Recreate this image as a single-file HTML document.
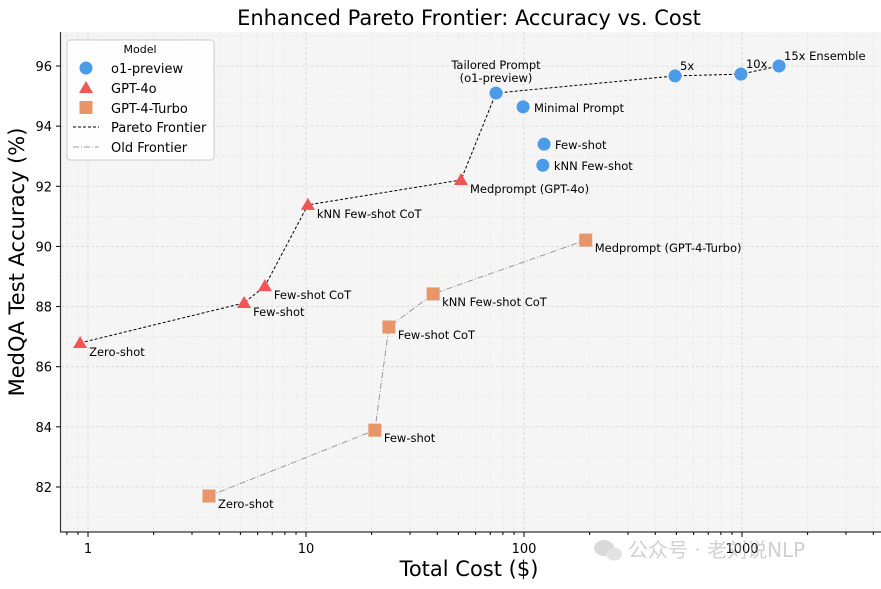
<!DOCTYPE html>
<html><head><meta charset="utf-8">
<style>
html,body{margin:0;padding:0;background:#fff;}
svg text{font-family:"DejaVu Sans","Liberation Sans","Noto Sans CJK SC",sans-serif;}
</style></head>
<body>
<svg id="chart" width="881" height="584" viewBox="0 0 881 584" xmlns="http://www.w3.org/2000/svg">
<rect width="881" height="584" fill="#fff"/>
<rect x="60" y="32" width="821" height="500" fill="#f5f5f5"/>
<g id="grid"></g>
<g id="lines"></g>
<g id="marks"></g>
<g id="labels"></g>
<line x1="60.5" y1="32" x2="60.5" y2="532" stroke="#333" stroke-width="1.2"/>
<line x1="60" y1="532" x2="881" y2="532" stroke="#333" stroke-width="1.2"/>
<g id="ticks"></g>
<text x="469" y="25" font-size="21" text-anchor="middle">Enhanced Pareto Frontier: Accuracy vs. Cost</text>
<text x="469" y="576" font-size="21" text-anchor="middle">Total Cost ($)</text>
<text transform="translate(24,262) rotate(-90)" font-size="21" text-anchor="middle">MedQA Test Accuracy (%)</text>
<g>
<rect x="67" y="40" width="147" height="120" rx="3" fill="#fff" fill-opacity="0.85" stroke="#ccc"/>
<text x="140" y="53" font-size="11" text-anchor="middle">Model</text>
<circle cx="86" cy="68" r="6.5" fill="#4c9be8"/><text x="111" y="73" font-size="13">o1-preview</text>
<polygon points="86,81 93,93 79,93" fill="#f25555"/><text x="111" y="93" font-size="13">GPT-4o</text>
<rect x="79.5" y="101" width="13" height="13" fill="#e8956a"/><text x="111" y="113" font-size="13">GPT-4-Turbo</text>
<line x1="73" y1="127" x2="99" y2="127" stroke="#000" stroke-dasharray="3,2"/><text x="111" y="132" font-size="13">Pareto Frontier</text>
<line x1="73" y1="147" x2="99" y2="147" stroke="#999" stroke-dasharray="6,2,1,2"/><text x="111" y="152" font-size="13">Old Frontier</text>
</g>
<g opacity="0.55">
<ellipse cx="604" cy="548" rx="10" ry="8" fill="#bbb"/><ellipse cx="614" cy="554" rx="8" ry="6.5" fill="#ccc"/>
<text x="628" y="557" font-size="20" fill="#aaa">公众号 · 老刘说NLP</text>
</g>
</svg>
<script>
const o1Names=["Tailored Prompt","Minimal Prompt","Few-shot","kNN Few-shot","5x","10x","15x Ensemble"];
const o1Cost=[74.4,99,123.6,122,493,989,1479];
const o1Acc=[95.1,94.64,93.4,92.7,95.67,95.73,96.0];
const g4oNames=["Zero-shot","Few-shot","Few-shot CoT","kNN Few-shot CoT","Medprompt (GPT-4o)"];
const g4oCost=[0.92,5.2,6.48,10.2,51.4];
const g4oAcc=[86.79,88.12,88.68,91.38,92.21];
const turboNames=["Zero-shot","Few-shot","Few-shot CoT","kNN Few-shot CoT","Medprompt (GPT-4-Turbo)"];
const turboCost=[3.59,20.7,24,38.3,192];
const turboAcc=[81.7,83.89,87.32,88.42,90.21];
const xTicks=[1,10,100,1000];
const yTicks=[82,84,86,88,90,92,94,96];

const NS="http://www.w3.org/2000/svg";
const X=v=>88+218*Math.log10(v);
const Y=v=>66+(96-v)*30.07;
function mk(tag,attrs,parent){const e=document.createElementNS(NS,tag);for(const k in attrs)e.setAttribute(k,attrs[k]);document.getElementById(parent).appendChild(e);return e;}
for(let d=-1;d<=3;d++)for(let m=1;m<10;m++){const v=m*Math.pow(10,d);const x=X(v);if(x<61||x>880)continue;
 const l=mk('line',{x1:x,y1:32,x2:x,y2:532,stroke:m===1?'#d8d8d8':'#e4e4e4','stroke-dasharray':'3,2','stroke-width':m===1?0.9:0.6},'grid');
 
 const t=mk('line',{x1:x,y1:532,x2:x,y2:m===1?537:535,stroke:'#000'},'ticks');
 }
for(let v=81;v<=97;v++){const y=Y(v);const l=mk('line',{x1:61,y1:y,x2:881,y2:y,stroke:v%2===0?'#d8d8d8':'#e6e6e6','stroke-dasharray':'3,2','stroke-width':0.8},'grid');
 }
xTicks.forEach(v=>{const t=mk('text',{x:X(v),y:553,'font-size':13,'text-anchor':'middle'},'ticks');t.textContent=v;
 });
yTicks.forEach(v=>{const y=Y(v);const l=mk('line',{x1:56,y1:y,x2:60,y2:y,stroke:'#000'},'ticks');
 
 const t=mk('text',{x:52,y:y+5,'font-size':13,'text-anchor':'end'},'ticks');t.textContent=v;
 });
const pIdx=[[g4oCost,g4oAcc,0],[g4oCost,g4oAcc,1],[g4oCost,g4oAcc,2],[g4oCost,g4oAcc,3],[g4oCost,g4oAcc,4],[o1Cost,o1Acc,0],[o1Cost,o1Acc,4],[o1Cost,o1Acc,5],[o1Cost,o1Acc,6]];
const pf=mk('polyline',{points:pIdx.map(p=>X(p[0][p[2]])+','+Y(p[1][p[2]])).join(' '),fill:'none',stroke:'#000','stroke-dasharray':'3,2','stroke-width':1},'lines');

const of=mk('polyline',{points:turboCost.map((c,i)=>X(c)+','+Y(turboAcc[i])).join(' '),fill:'none',stroke:'#999','stroke-dasharray':'6,2,1,2','stroke-width':1},'lines');

o1Cost.forEach((c,i)=>{const e=mk('circle',{cx:X(c),cy:Y(o1Acc[i]),r:6.5,fill:'#4c9be8'},'marks');
 });
g4oCost.forEach((c,i)=>{const x=X(c),y=Y(g4oAcc[i]);const e=mk('polygon',{points:`${x},${y-7} ${x+7},${y+5} ${x-7},${y+5}`,fill:'#f25555'},'marks');
 });
turboCost.forEach((c,i)=>{const e=mk('rect',{x:X(c)-6.5,y:Y(turboAcc[i])-6.5,width:13,height:13,fill:'#e8956a'},'marks');
 });
function lab(txt,x,y,anchor){const t=mk('text',{x:x,y:y,'font-size':11.5,'text-anchor':anchor||'start'},'labels');t.textContent=txt;
 return t;}
o1Names.forEach((n,i)=>{const x=X(o1Cost[i]),y=Y(o1Acc[i]);
 if(i===0){lab('Tailored Prompt',x,y-24,'middle');lab('(o1-preview)',x,y-11,'middle');}
 else if(i>=4){lab(n,x+5,y-6);}
 else lab(n,x+11,y+5);});
g4oNames.forEach((n,i)=>lab(n,X(g4oCost[i])+9,Y(g4oAcc[i])+13));
turboNames.forEach((n,i)=>lab(n,X(turboCost[i])+9,Y(turboAcc[i])+12));
</script>
</body></html>
